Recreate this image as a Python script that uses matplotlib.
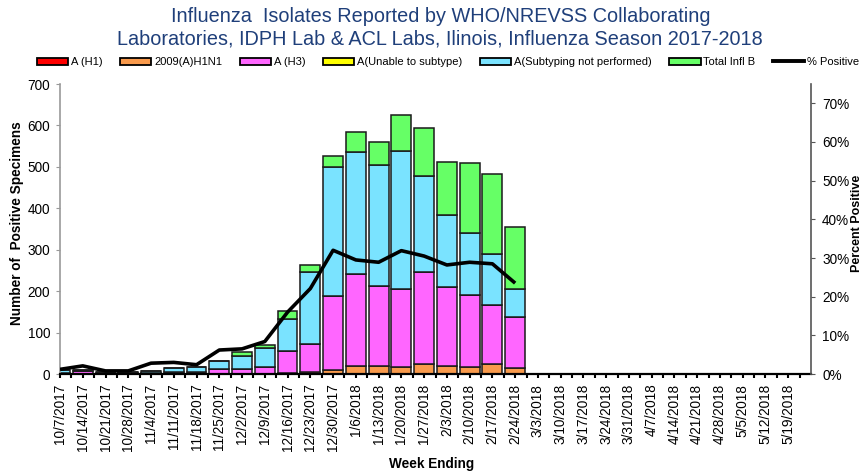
import matplotlib
matplotlib.use("Agg")
import matplotlib.pyplot as plt
from matplotlib.patches import Patch
from matplotlib.lines import Line2D
import numpy as np

plt.rcParams['font.family'] = ['Liberation Sans', 'DejaVu Sans']

weeks = ["10/7/2017", "10/14/2017", "10/21/2017", "10/28/2017", "11/4/2017", "11/11/2017",
         "11/18/2017", "11/25/2017", "12/2/2017", "12/9/2017", "12/16/2017", "12/23/2017",
         "12/30/2017", "1/6/2018", "1/13/2018", "1/20/2018", "1/27/2018", "2/3/2018",
         "2/10/2018", "2/17/2018", "2/24/2018", "3/3/2018", "3/10/2018", "3/17/2018",
         "3/24/2018", "3/31/2018", "4/7/2018", "4/14/2018", "4/21/2018", "4/28/2018",
         "5/5/2018", "5/12/2018", "5/19/2018"]

n_data = 21
a_h1 = [0] * n_data
h1n1 = [0, 0, 0, 0, 0, 0, 0, 0, 1, 1, 2, 5, 9, 19, 19, 17, 23, 19, 16, 24, 15]
h3 = [3, 8, 2, 2, 2, 4, 6, 11, 12, 16, 54, 67, 179, 222, 193, 187, 224, 191, 174, 142, 123]
unable = [0] * n_data
not_performed = [7, 2, 3, 3, 6, 11, 12, 20, 30, 45, 76, 175, 312, 295, 293, 335, 230, 173, 150, 123, 66]
infl_b = [0, 0, 0, 0, 0, 0, 0, 0, 9, 8, 21, 16, 27, 47, 55, 87, 118, 129, 170, 194, 151]
pct_pos = [1.2, 2.1, 0.8, 0.8, 2.8, 3.0, 2.4, 6.2, 6.5, 8.4, 16.0, 22.1, 32.0, 29.5, 28.9,
           31.9, 30.5, 28.2, 28.9, 28.5, 23.5]

series = [("A (H1)", a_h1, "#FF0000"),
          ("2009(A)H1N1", h1n1, "#F99A4C"),
          ("A (H3)", h3, "#FF66FF"),
          ("A(Unable to subtype)", unable, "#FFFF00"),
          ("A(Subtyping not performed)", not_performed, "#7AE3FF"),
          ("Total Infl B", infl_b, "#66FF66")]

fig = plt.figure(figsize=(8.63, 4.74), dpi=100)
ax = fig.add_axes([60 / 863, 1 - 374 / 474, (811 - 60) / 863, (374 - 84) / 474])
x = np.arange(n_data)
bottom = np.zeros(n_data)
for name, vals, col in series:
    v = np.array(vals, dtype=float)
    ax.bar(x, v, bottom=bottom, width=0.87, color=col, edgecolor="#1a1a1a", linewidth=1.1,
           zorder=2)
    bottom += v

ax.set_xlim(0, 33)
ax.set_ylim(0, 700)
ax.set_yticks(range(0, 701, 100))
ax.set_xticks(np.arange(len(weeks)))
ax.set_xticklabels(weeks, rotation=90, fontsize=9.8)
ax.set_xticks(np.arange(0.5, 33, 1), minor=True)
ax.tick_params(axis='x', which='both', direction='out', length=3, width=1.5, color='black', pad=4)
ax.tick_params(axis='y', direction='out', length=3, color='#999999', labelsize=9.8, pad=4)
for s in ['top', 'right']:
    ax.spines[s].set_visible(False)
ax.spines['left'].set_color('#999999')
ax.spines['left'].set_linewidth(1.2)
ax.spines['bottom'].set_linewidth(1.6)
ax.set_ylabel("Number of  Positive Specimens", fontsize=9.8, fontweight='bold')
ax.yaxis.set_label_coords(-36 / 751, 0.52)
ax.set_xlabel("Week Ending", fontsize=9.8, fontweight='bold')
ax.xaxis.set_label_coords((432 - 60) / 751, -(457 - 374) / 290)

ax2 = ax.twinx()
ax2.plot(x, np.array(pct_pos) / 100, color='black', linewidth=2.6, zorder=5, solid_capstyle='butt')
ax2.set_ylim(0, 0.75)
ax2.set_yticks(np.arange(0, 0.71, 0.1))
ax2.set_yticklabels([f"{int(round(t*100))}%" for t in np.arange(0, 0.71, 0.1)])
ax2.tick_params(axis='y', direction='out', length=3, color='#555555', labelsize=9.8, pad=5)
for s in ['top', 'left', 'bottom']:
    ax2.spines[s].set_visible(False)
ax2.spines['right'].set_color('#555555')
ax2.spines['right'].set_linewidth(1.2)
ax2.set_ylabel("Percent Positive", fontsize=9, fontweight='bold')
ax2.yaxis.set_label_coords((851 - 60) / 751, 0.52)

fig.text(441 / 863, 1 - 17 / 474, "Influenza  Isolates Reported by WHO/NREVSS Collaborating",
         ha='center', va='center', fontsize=14.3, color='#1F3F7A')
fig.text(440 / 863, 1 - 39 / 474, "Laboratories, IDPH Lab & ACL Labs, Ilinois, Influenza Season 2017-2018",
         ha='center', va='center', fontsize=14.3, color='#1F3F7A')

handles = [Patch(facecolor=c, edgecolor='black', linewidth=1.3) for _, _, c in series]
handles.append(Line2D([0], [0], color='black', linewidth=2.8))
labels = [n for n, _, _ in series] + ["% Positive"]
leg = fig.legend(handles, labels, loc='center', bbox_to_anchor=(448 / 863, 1 - 62 / 474), ncol=7,
                 frameon=False, prop={'size': 8.0}, handlelength=2.8,
                 handleheight=0.6, handletextpad=0.25, columnspacing=1.6)

fig.savefig("out.png", dpi=100)
